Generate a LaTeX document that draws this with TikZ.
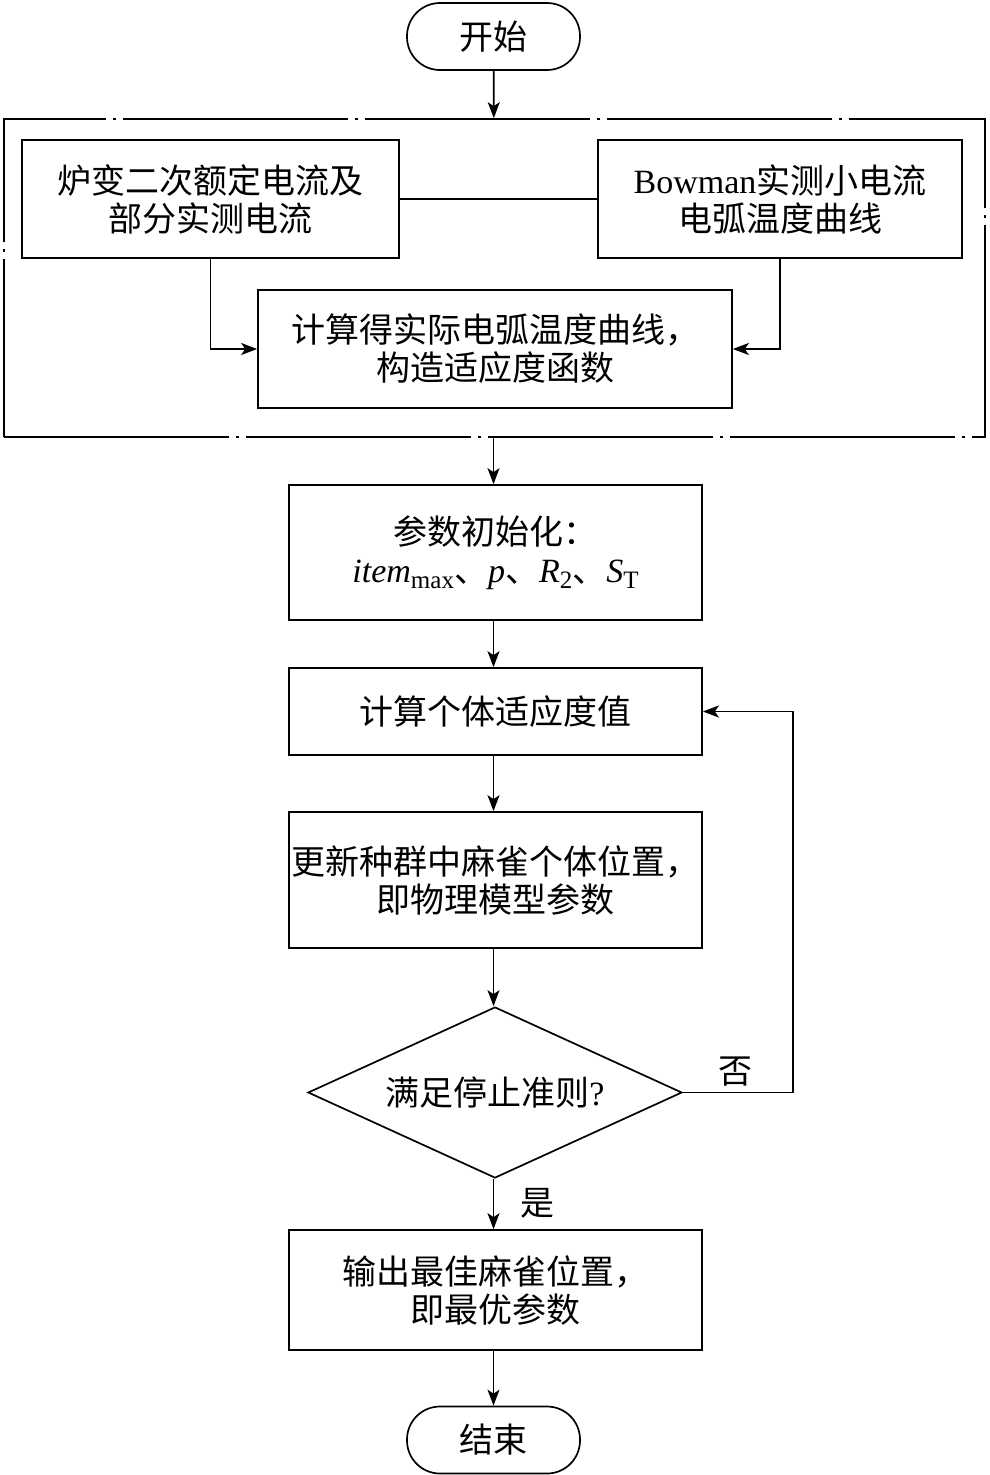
\documentclass[tikz,border=0pt]{standalone}
\usepackage{fontspec}
\setmainfont{Liberation Serif}
\newfontfamily\cjk{Noto Sans CJK SC}
\usetikzlibrary{shapes.geometric,arrows.meta}
\newcommand\subtx[1]{\raisebox{-0.35ex}{\rmfamily\upshape\fontsize{25}{25}\selectfont #1}}
\begin{document}
\begin{tikzpicture}[x=1pt,y=-1pt, line width=1.7pt,
 box/.style={draw, rectangle, align=center, font=\cjk\fontsize{34}{38}\selectfont, inner sep=0pt},
 term/.style={box, rounded corners=33pt, minimum width=173pt, minimum height=67pt},
 arr/.style={-{Stealth[length=16pt,width=12pt,inset=4pt]}},
 lbl/.style={font=\cjk\fontsize{34}{38}\selectfont, inner sep=0pt}]
\useasboundingbox (0,0) rectangle (989,1475);

\node[term] (start) at (493.5,36.5) {开始};
\node[draw, dash pattern=on 225pt off 7pt on 3pt off 7pt, minimum width=981pt, minimum height=318pt, inner sep=0pt] (frame) at (494.5,278) {};
\node[box, minimum width=377pt, minimum height=118pt] (b1) at (210.5,199) {炉变二次额定电流及\\部分实测电流};
\node[box, minimum width=364pt, minimum height=118pt] (b2) at (780,199) {{\rmfamily Bowman}实测小电流\\电弧温度曲线};
\node[box, minimum width=474pt, minimum height=118pt] (b3) at (495,349) {计算得实际电弧温度曲线，\\构造适应度函数};
\node[box, minimum width=413pt, minimum height=135pt] (b4) at (495.5,552.5) {参数初始化：\\{\rmfamily\itshape item}\subtx{max}、{\rmfamily\itshape p}、{\rmfamily\itshape R}\subtx{2}、{\rmfamily\itshape S}\subtx{T}};
\node[box, minimum width=413pt, minimum height=87pt] (b5) at (495.5,711.5) {计算个体适应度值};
\node[box, minimum width=413pt, minimum height=136pt] (b6) at (495.5,880) {更新种群中麻雀个体位置，\\即物理模型参数};
\node[diamond, draw, aspect=2.19, minimum width=374pt, minimum height=171pt, inner sep=0pt, font=\cjk\fontsize{34}{38}\selectfont] (dia) at (495,1092.5) {满足停止准则{\rmfamily ?}};
\node[box, minimum width=413pt, minimum height=120pt] (b7) at (495.5,1290) {输出最佳麻雀位置，\\即最优参数};
\node[term] (end) at (493.5,1440) {结束};

\coordinate (loopx) at (793,0);

\draw[arr] (start) -- (frame);
\draw (b1) -- (b2);
\draw[arr] (b1.south) |- (b3.west);
\draw[arr] (b2.south) |- (b3.east);
\draw[arr] (frame.south -| start.south) -- (b4.north -| start.south);
\draw[arr] (b4.south -| start.south) -- (b5.north -| start.south);
\draw[arr] (b5.south -| start.south) -- (b6.north -| start.south);
\draw[arr] (b6.south -| start.south) -- (dia.north -| start.south);
\draw[arr] (dia.south -| start.south) -- (b7.north -| start.south);
\draw[arr] (b7.south -| start.south) -- (end);
\draw[arr] (dia.east) -- (dia.east -| loopx) |- (b5.east);

\node[lbl] (no) at (735,1072) {否};
\node[lbl] (yes) at (537,1203) {是};
\end{tikzpicture}
\end{document}
